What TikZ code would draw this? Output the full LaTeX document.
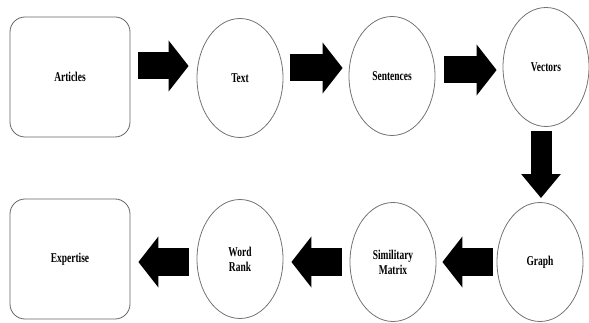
\documentclass[tikz,border=0pt]{standalone}
\usepackage{fontspec}
\newfontfamily\lblfont{Liberation Serif}[FakeStretch=0.7]
\usetikzlibrary{shapes.geometric,arrows.meta}
\begin{document}
\begin{tikzpicture}[x=1pt,y=-1pt,
  lbl/.style={font=\lblfont\bfseries\fontsize{13.5}{15}\selectfont, align=center, text=black},
  oval/.style={lbl, ellipse, draw=black!55, line width=0.8pt, minimum width=86pt, minimum height=119pt, inner sep=0pt},
  sqbox/.style={lbl, rectangle, rounded corners=15pt, draw=black!60, line width=0.8pt, minimum width=120pt, minimum height=120pt, inner sep=0pt},
  bigarrow/.style={line width=27pt, -{Triangle[length=20pt,width=50pt]}},
  downarrow/.style={line width=21pt, -{Triangle[length=24pt,width=38pt]}}]
\useasboundingbox (0,0) rectangle (589,323);
\node[sqbox] (articles) at (70,77) {Articles};
\node[oval] (text) at (240,78) {Text};
\node[oval] (sentences) at (392,76) {Sentences};
\node[oval] (vectors) at (546,67) {Vectors};
\node[oval] (graph) at (540,262) {Graph};
\node[oval] (sim) at (393,262) {Similitary\\Matrix};
\node[oval] (word) at (240,259) {Word\\Rank};
\node[sqbox] (expertise) at (70,259) {Expertise};
\draw[bigarrow] ([xshift=8pt,yshift=11pt]articles.east) -- ([xshift=-8pt,yshift=12pt]text.west);
\draw[bigarrow] ([xshift=7pt,yshift=10pt]text.east) -- ([xshift=-6pt,yshift=8pt]sentences.west);
\draw[bigarrow] ([xshift=9pt,yshift=6pt]sentences.east) -- ([xshift=-6pt,yshift=-3pt]vectors.west);
\draw[downarrow] ([xshift=-5pt,yshift=-4pt]vectors.south) -- ([xshift=1pt,yshift=4pt]graph.north);
\draw[bigarrow] ([xshift=-4pt]graph.west) -- ([xshift=6pt]sim.east);
\draw[bigarrow] ([xshift=-8pt]sim.west) -- ([xshift=8pt,yshift=-3pt]word.east);
\draw[bigarrow] ([xshift=-8pt,yshift=-3pt]word.west) -- ([xshift=8pt,yshift=-3pt]expertise.east);
\end{tikzpicture}
\end{document}
